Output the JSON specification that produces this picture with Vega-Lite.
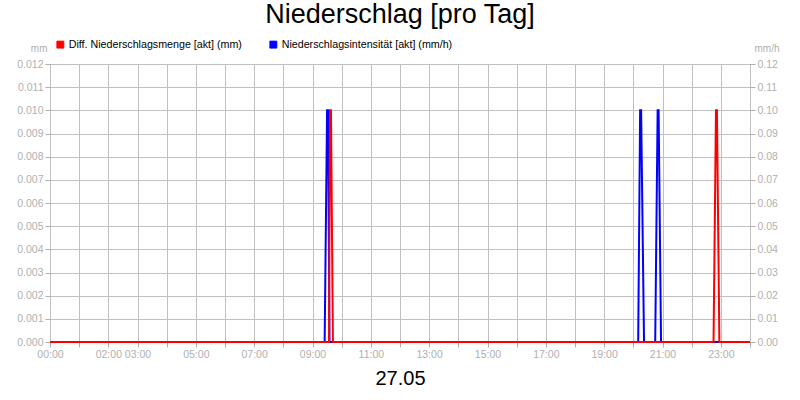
{
  "$schema": "https://vega.github.io/schema/vega-lite/v6.json",
  "width": 700,
  "height": 278,
  "autosize": {"type": "none"},
  "padding": {"left": 50, "top": 64, "right": 50, "bottom": 58},
  "background": "white",
  "title": {
    "text": "Niederschlag [pro Tag]",
    "font": "Liberation Sans",
    "fontSize": 27,
    "fontWeight": "normal",
    "color": "black",
    "anchor": "middle",
    "frame": "group",
    "offset": 10
  },
  "config": {
    "view": {"stroke": "black", "strokeWidth": 1},
    "axis": {
      "labelFont": "Liberation Sans",
      "labelFontSize": 10.5,
      "labelColor": "#b0b0b0",
      "tickColor": "#b0b0b0",
      "tickSize": 5,
      "labelPadding": 2,
      "gridColor": "#c0c0c0",
      "gridOpacity": 1,
      "domain": false,
      "titleFont": "Liberation Sans",
      "titleFontWeight": "normal"
    }
  },
  "data": {
    "values": [
      {"series": "Niederschlagsintensität [akt] (mm/h)", "t": "2024-05-27T00:00:00Z", "v": 0},
      {"series": "Niederschlagsintensität [akt] (mm/h)", "t": "2024-05-27T09:25:00Z", "v": 0},
      {"series": "Niederschlagsintensität [akt] (mm/h)", "t": "2024-05-27T09:30:00Z", "v": 0.1},
      {"series": "Niederschlagsintensität [akt] (mm/h)", "t": "2024-05-27T09:32:00Z", "v": 0.1},
      {"series": "Niederschlagsintensität [akt] (mm/h)", "t": "2024-05-27T09:35:00Z", "v": 0},
      {"series": "Niederschlagsintensität [akt] (mm/h)", "t": "2024-05-27T20:10:00Z", "v": 0},
      {"series": "Niederschlagsintensität [akt] (mm/h)", "t": "2024-05-27T20:14:00Z", "v": 0.1},
      {"series": "Niederschlagsintensität [akt] (mm/h)", "t": "2024-05-27T20:16:00Z", "v": 0.1},
      {"series": "Niederschlagsintensität [akt] (mm/h)", "t": "2024-05-27T20:22:00Z", "v": 0},
      {"series": "Niederschlagsintensität [akt] (mm/h)", "t": "2024-05-27T20:45:00Z", "v": 0},
      {"series": "Niederschlagsintensität [akt] (mm/h)", "t": "2024-05-27T20:50:00Z", "v": 0.1},
      {"series": "Niederschlagsintensität [akt] (mm/h)", "t": "2024-05-27T20:52:00Z", "v": 0.1},
      {"series": "Niederschlagsintensität [akt] (mm/h)", "t": "2024-05-27T20:57:00Z", "v": 0},
      {"series": "Niederschlagsintensität [akt] (mm/h)", "t": "2024-05-28T00:00:00Z", "v": 0},
      {"series": "Diff. Niederschlagsmenge [akt] (mm)", "t": "2024-05-27T00:00:00Z", "v": 0},
      {"series": "Diff. Niederschlagsmenge [akt] (mm)", "t": "2024-05-27T09:34:00Z", "v": 0},
      {"series": "Diff. Niederschlagsmenge [akt] (mm)", "t": "2024-05-27T09:36:00Z", "v": 0.01},
      {"series": "Diff. Niederschlagsmenge [akt] (mm)", "t": "2024-05-27T09:38:00Z", "v": 0.01},
      {"series": "Diff. Niederschlagsmenge [akt] (mm)", "t": "2024-05-27T09:42:00Z", "v": 0},
      {"series": "Diff. Niederschlagsmenge [akt] (mm)", "t": "2024-05-27T22:45:00Z", "v": 0},
      {"series": "Diff. Niederschlagsmenge [akt] (mm)", "t": "2024-05-27T22:50:00Z", "v": 0.01},
      {"series": "Diff. Niederschlagsmenge [akt] (mm)", "t": "2024-05-27T22:52:00Z", "v": 0.01},
      {"series": "Diff. Niederschlagsmenge [akt] (mm)", "t": "2024-05-27T22:57:00Z", "v": 0},
      {"series": "Diff. Niederschlagsmenge [akt] (mm)", "t": "2024-05-28T00:00:00Z", "v": 0}
    ]
  },
  "encoding": {
    "x": {
      "field": "t",
      "type": "temporal",
      "scale": {
        "type": "utc",
        "domain": [
          {"year": 2024, "month": 5, "date": 27, "hours": 0, "utc": true},
          {"year": 2024, "month": 5, "date": 28, "hours": 0, "utc": true}
        ],
        "nice": false
      },
      "axis": {
        "title": "27.05",
        "titleFontSize": 20,
        "titleColor": "black",
        "titlePadding": 9,
        "grid": true,
        "labelFlush": false,
        "labelOverlap": false,
        "values": [
          {"year": 2024, "month": 5, "date": 27, "hours": 0, "utc": true},
          {"year": 2024, "month": 5, "date": 27, "hours": 1, "utc": true},
          {"year": 2024, "month": 5, "date": 27, "hours": 2, "utc": true},
          {"year": 2024, "month": 5, "date": 27, "hours": 3, "utc": true},
          {"year": 2024, "month": 5, "date": 27, "hours": 4, "utc": true},
          {"year": 2024, "month": 5, "date": 27, "hours": 5, "utc": true},
          {"year": 2024, "month": 5, "date": 27, "hours": 6, "utc": true},
          {"year": 2024, "month": 5, "date": 27, "hours": 7, "utc": true},
          {"year": 2024, "month": 5, "date": 27, "hours": 8, "utc": true},
          {"year": 2024, "month": 5, "date": 27, "hours": 9, "utc": true},
          {"year": 2024, "month": 5, "date": 27, "hours": 10, "utc": true},
          {"year": 2024, "month": 5, "date": 27, "hours": 11, "utc": true},
          {"year": 2024, "month": 5, "date": 27, "hours": 12, "utc": true},
          {"year": 2024, "month": 5, "date": 27, "hours": 13, "utc": true},
          {"year": 2024, "month": 5, "date": 27, "hours": 14, "utc": true},
          {"year": 2024, "month": 5, "date": 27, "hours": 15, "utc": true},
          {"year": 2024, "month": 5, "date": 27, "hours": 16, "utc": true},
          {"year": 2024, "month": 5, "date": 27, "hours": 17, "utc": true},
          {"year": 2024, "month": 5, "date": 27, "hours": 18, "utc": true},
          {"year": 2024, "month": 5, "date": 27, "hours": 19, "utc": true},
          {"year": 2024, "month": 5, "date": 27, "hours": 20, "utc": true},
          {"year": 2024, "month": 5, "date": 27, "hours": 21, "utc": true},
          {"year": 2024, "month": 5, "date": 27, "hours": 22, "utc": true},
          {"year": 2024, "month": 5, "date": 27, "hours": 23, "utc": true},
          {"year": 2024, "month": 5, "date": 28, "hours": 0, "utc": true}
        ],
        "labelExpr": "(indexof([0,2,3,5,7,9,11,13,15,17,19,21,23], utchours(datum.value)) >= 0 && datum.value < utc(2024,4,28)) ? utcFormat(datum.value, '%H:%M') : ''"
      }
    },
    "color": {
      "field": "series",
      "type": "nominal",
      "scale": {
        "domain": ["Diff. Niederschlagsmenge [akt] (mm)", "Niederschlagsintensität [akt] (mm/h)"],
        "range": ["#ff0000", "#0000ff"]
      },
      "legend": {
        "orient": "none",
        "legendX": 5,
        "legendY": -25,
        "direction": "horizontal",
        "title": null,
        "symbolType": "square",
        "symbolSize": 50,
        "symbolStrokeWidth": 1,
        "labelFont": "Liberation Sans",
        "labelFontSize": 10.7,
        "labelColor": "black",
        "labelLimit": 0,
        "labelOffset": 3,
        "columnPadding": 26,
        "encode": {
          "symbols": {
            "update": {
              "fill": {"scale": "color", "field": "value"},
              "fillOpacity": {"value": 1},
              "stroke": {"value": "#000000"},
              "strokeWidth": {"value": 0.8}
            }
          }
        }
      }
    }
  },
  "layer": [
    {
      "transform": [{"filter": "datum.series === 'Niederschlagsintensität [akt] (mm/h)'"}],
      "mark": {"type": "line", "strokeWidth": 2, "interpolate": "linear"},
      "encoding": {
        "y": {
          "field": "v",
          "type": "quantitative",
          "scale": {"domain": [0, 0.12], "nice": false},
          "axis": {
            "orient": "right",
            "grid": false,
            "format": ".2f",
            "values": [0, 0.01, 0.02, 0.03, 0.04, 0.05, 0.06, 0.07, 0.08, 0.09, 0.1, 0.11, 0.12],
            "title": "mm/h",
            "titleAngle": 0,
            "titleX": 4,
            "titleY": -13,
            "titleAlign": "left",
            "titleBaseline": "alphabetic",
            "titleFontSize": 10,
            "titleColor": "#b0b0b0"
          }
        }
      }
    },
    {
      "transform": [{"filter": "datum.series === 'Diff. Niederschlagsmenge [akt] (mm)'"}],
      "mark": {"type": "line", "strokeWidth": 2, "interpolate": "linear"},
      "encoding": {
        "y": {
          "field": "v",
          "type": "quantitative",
          "scale": {"domain": [0, 0.012], "nice": false},
          "axis": {
            "orient": "left",
            "grid": true,
            "format": ".3f",
            "values": [0, 0.001, 0.002, 0.003, 0.004, 0.005, 0.006, 0.007, 0.008, 0.009, 0.01, 0.011, 0.012],
            "title": "mm",
            "titleAngle": 0,
            "titleX": -3,
            "titleY": -13,
            "titleAlign": "right",
            "titleBaseline": "alphabetic",
            "titleFontSize": 10,
            "titleColor": "#b0b0b0"
          }
        }
      }
    }
  ],
  "resolve": {"scale": {"y": "independent"}}
}
